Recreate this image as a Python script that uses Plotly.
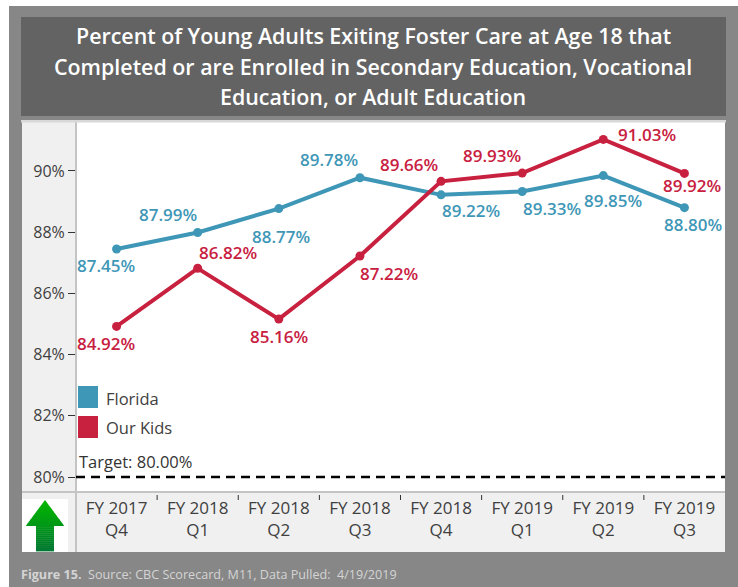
import plotly.graph_objects as go

W, H = 738, 587
L, R, T, B = 76, 725, 122, 492

quarters = ["FY 2017<br>Q4", "FY 2018<br>Q1", "FY 2018<br>Q2", "FY 2018<br>Q3",
            "FY 2018<br>Q4", "FY 2019<br>Q1", "FY 2019<br>Q2", "FY 2019<br>Q3"]
florida = [87.45, 87.99, 88.77, 89.78, 89.22, 89.33, 89.85, 88.80]
our_kids = [84.92, 86.82, 85.16, 87.22, 89.66, 89.93, 91.03, 89.92]
target = 80.0
y_ticks = [80, 82, 84, 86, 88, 90]
title_lines = ["Percent of Young Adults Exiting Foster Care at Age 18 that",
               "Completed or are Enrolled in Secondary Education, Vocational",
               "Education, or Adult Education"]

# label offsets from their points, in pixels (dx, dy with dy downward)
florida_off = [(-11, 16), (-30, -18), (2, 28), (-31, -18), (30, 16), (30, 17), (10, 25), (9, 17)]
kids_off = [(-11, 17), (30, -16), (0, 17), (29, 17), (-32, -17), (-30, -18), (44, -5), (8, 12)]

TEAL = "#3f97b7"
RED = "#c8203f"
FONT = "Open Sans"
TEXT = "#404040"


def px(x):
    return (x - L) / (R - L)


def py(y):
    return (B - y) / (B - T)


def rect(x0, y0, x1, y1, fill, layer="below"):
    return dict(type="rect", xref="paper", yref="paper", x0=px(x0), x1=px(x1), y0=py(y1), y1=py(y0),
                fillcolor=fill, line=dict(width=0), layer=layer)


def poly(points, fill):
    path = "M " + " L ".join(f"{px(a):.5f},{py(b):.5f}" for a, b in points) + " Z"
    return dict(type="path", xref="paper", yref="paper", path=path, fillcolor=fill,
                line=dict(width=0), layer="below")


xs = list(range(len(quarters)))
fig = go.Figure()
for name, vals, color in [("Florida", florida, TEAL), ("Our Kids", our_kids, RED)]:
    fig.add_trace(go.Scatter(x=xs, y=vals, name=name, mode="lines+markers",
                             line=dict(color=color, width=4),
                             marker=dict(color=color, size=9), showlegend=False,
                             hovertemplate="%{y:.2f}%<extra>" + name + "</extra>"))
fig.add_trace(go.Scatter(x=[-0.5, 7.5], y=[target, target], mode="lines", showlegend=False,
                         line=dict(color="black", width=2.5, dash="9px,6px"), cliponaxis=False,
                         hoverinfo="skip"))

shapes = [
    rect(9, 6, 738, 587, "#878787"),
    rect(21, 17, 726, 116, "#636363"),
    rect(22, 122, 725, 552, "#f0f0f0"),
    rect(L, T, R, B, "#ffffff"),
    rect(22, 499, 68, 552, "#ffffff"),
    rect(78, 386, 98, 408, TEAL),
    rect(78, 416, 98, 438, RED),
    rect(75, 122, 77, 552, "#c4c4c4"),
    rect(22, 491, 725, 493, "#c4c4c4"),
    rect(21, 120, 726, 122.5, "#d8d8d8"),
]

# gradient arrow built from thin slices
steps = 26
top, neck, bottom = 500, 527, 551
for i in range(steps):
    y0 = top + (bottom - top) * i / steps
    y1 = top + (bottom - top) * (i + 1) / steps + 0.4
    t = i / (steps - 1)
    col = f"rgb(0,{int(184 - 64 * t)},{int(0 + 48 * t)})"
    if y1 <= neck:
        h0 = 20 * (y0 - top) / (neck - top)
        h1 = 20 * min(y1 - top, neck - top) / (neck - top)
        shapes.append(poly([(45 - h0, y0), (45 + h0, y0), (45 + h1, y1), (45 - h1, y1)], col))
    else:
        shapes.append(poly([(36, y0), (54, y0), (54, y1), (36, y1)], col))

for i in range(len(quarters) - 1):
    shapes.append(dict(type="line", xref="x", yref="paper", x0=i + 0.5, x1=i + 0.5,
                       y0=py(B + 3), y1=py(B + 8), line=dict(color="#333333", width=1)))

annotations = []
for i, line in enumerate(title_lines):
    annotations.append(dict(xref="paper", yref="paper", x=px(373), y=py(36 + 30 * i), text=line,
                            showarrow=False, xanchor="center", yanchor="middle",
                            font=dict(family=FONT, size=21.4, color="white", weight=600)))
for vals, offs, color in [(florida, florida_off, TEAL), (our_kids, kids_off, RED)]:
    for x, v, (dx, dy) in zip(xs, vals, offs):
        annotations.append(dict(x=x, y=v, text=f"{v:.2f}%", showarrow=False, xshift=dx, yshift=-dy,
                                font=dict(family=FONT, size=17, color=color, weight=600),
                                xanchor="center", yanchor="middle"))
for name, y in [("Florida", 398), ("Our Kids", 427)]:
    annotations.append(dict(xref="paper", yref="paper", x=px(104), y=py(y), text=name, showarrow=False,
                            xanchor="left", yanchor="middle", font=dict(family=FONT, size=16.5, color=TEXT)))
annotations.append(dict(xref="paper", y=target, x=px(77), text=f"Target: {target:.2f}%", showarrow=False,
                        xanchor="left", yanchor="bottom", yshift=2,
                        font=dict(family=FONT, size=16.5, color="#333333")))
annotations.append(dict(xref="paper", yref="paper", x=px(19), y=py(574), showarrow=False, xanchor="left",
                        yanchor="middle", align="left",
                        text="<b>Figure 15.</b>  Source: CBC Scorecard, M11, Data Pulled:  4/19/2019",
                        font=dict(family=FONT, size=12.6, color="#d4d4d4")))

fig.update_layout(
    width=W, height=H, autosize=False,
    margin=dict(l=L, r=W - R, t=T, b=H - B, pad=0),
    paper_bgcolor="white", plot_bgcolor="rgba(0,0,0,0)",
    showlegend=False, shapes=shapes, annotations=annotations,
    font=dict(family=FONT, color=TEXT),
    xaxis=dict(range=[-0.5, 7.5], tickmode="array", tickvals=xs, ticktext=quarters, showgrid=False,
               zeroline=False, ticks="", tickfont=dict(family=FONT, size=17, color=TEXT), showline=False,
               ticklabelstandoff=4),
    yaxis=dict(range=[79.51, 91.60], tickmode="array", tickvals=y_ticks, ticktext=[f"{t}%" for t in y_ticks],
               showgrid=False, zeroline=False, ticks="outside", ticklen=7, tickcolor="#333333", tickwidth=1,
               tickfont=dict(family=FONT, size=16, color=TEXT), showline=False),
)
fig.write_html("out.html", config=dict(displayModeBar=False),
               post_script="document.body.style.margin='0';document.body.style.overflow='hidden';")
